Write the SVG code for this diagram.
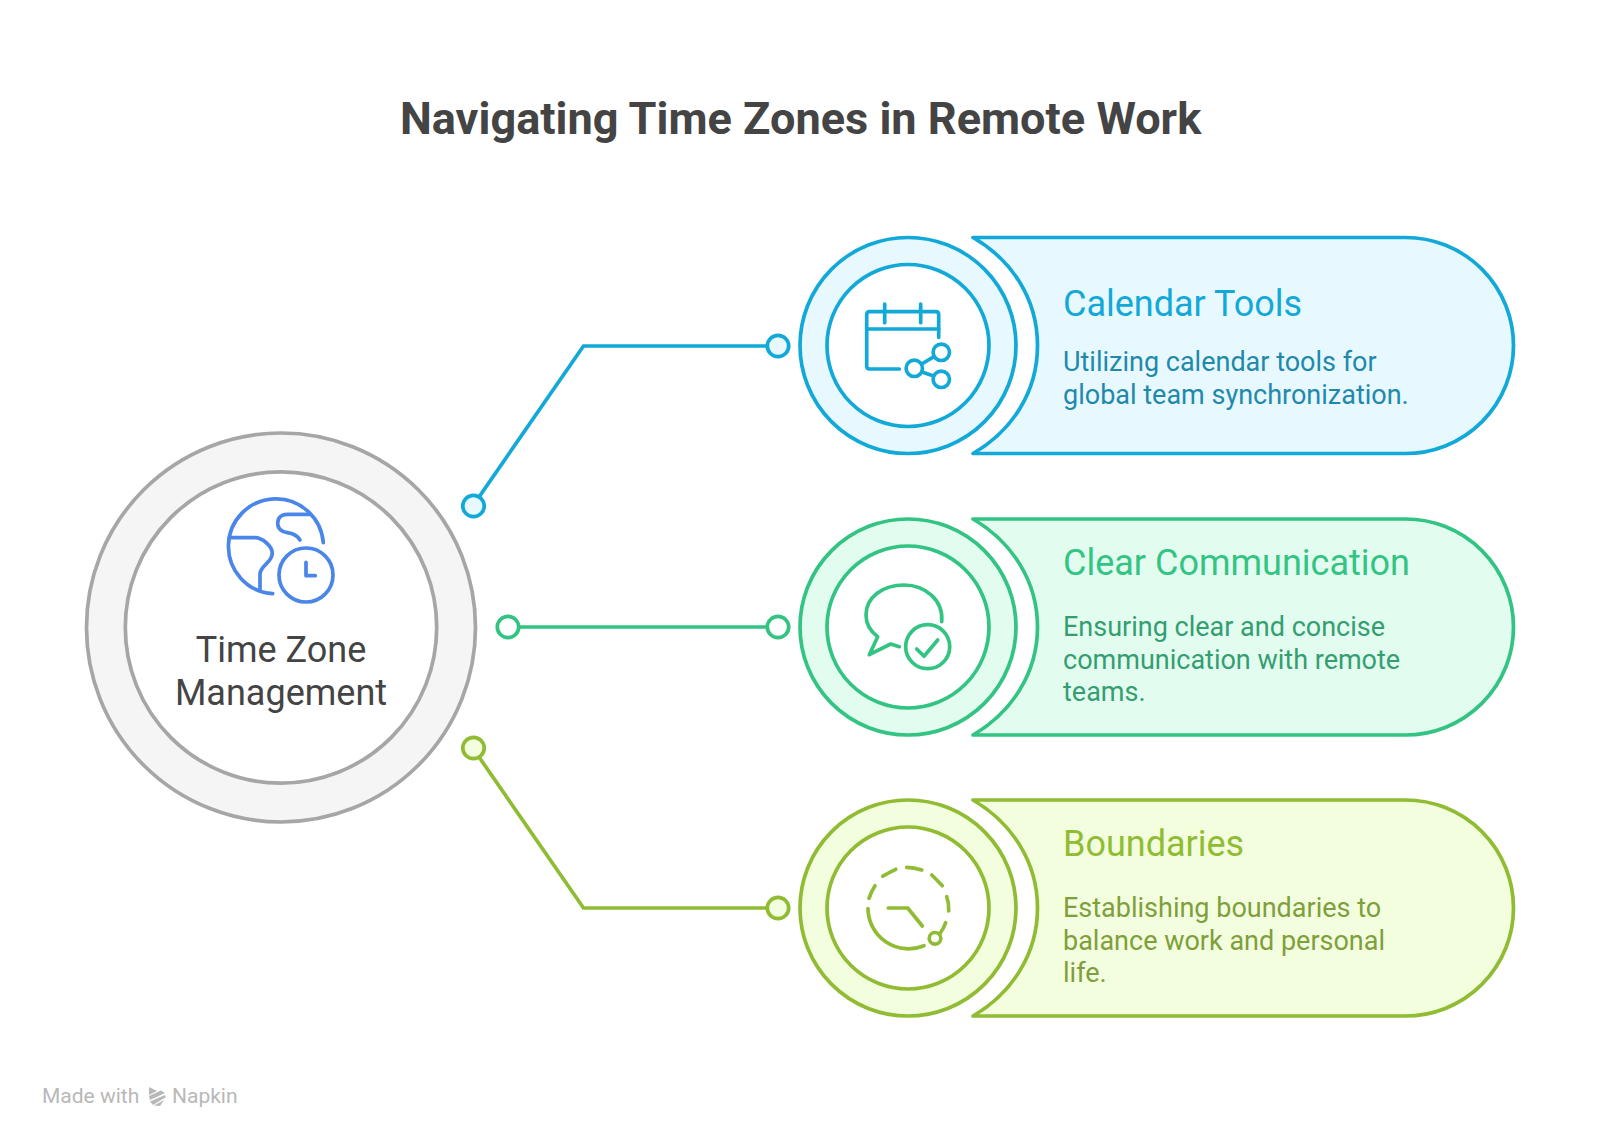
<svg xmlns="http://www.w3.org/2000/svg" width="1600" height="1147" viewBox="0 0 1600 1147">
<style>
text{font-family:Roboto,"Liberation Sans",sans-serif}
.title{font-size:45.100px;font-weight:700;fill:#444444}
.main{font-size:36px;fill:#444444;text-anchor:middle}
.head{font-size:36px}
.desc{font-size:27px}
.ic{fill:none;stroke-width:3.700;stroke-linecap:round;stroke-linejoin:round}
.ln{fill:none;stroke-width:3.700;stroke-linejoin:miter}
.blue{stroke:#12a9d8}.bfill{fill:#e7f8ff}
.green{stroke:#33c483}.gfill{fill:#e2fdf0}
.lime{stroke:#90bc33}.lfill{fill:#f2fedd}
.s{stroke-width:3.700;stroke-linejoin:round}
.foot{font-size:21px;fill:#b8b8b8}
</style>
<rect width="1600" height="1147" fill="#ffffff"/>
<text class="title" x="400" y="134">Navigating Time Zones in Remote Work</text>
<g id="connectors">
<path class="ln blue" d="M479 497 L583.500 346 H767"/>
<circle class="s blue bfill" cx="473.500" cy="506" r="10.700"/>
<circle class="s blue bfill" cx="778" cy="346" r="10.700"/>
<path class="ln green" d="M519 627 H767"/>
<circle class="s green" fill="#ffffff" cx="508" cy="627" r="10.700"/>
<circle class="s green" fill="#ffffff" cx="778" cy="627" r="10.700"/>
<path class="ln lime" d="M479 757 L583.500 908 H767"/>
<circle class="s lime lfill" cx="473.500" cy="748" r="10.700"/>
<circle class="s lime lfill" cx="778" cy="908" r="10.700"/>
</g>
<g id="node-main">
<circle cx="281" cy="627.500" r="194.500" fill="#f5f5f5" stroke="#a6a6a6" stroke-width="3.700"/>
<circle cx="281" cy="627.500" r="155.700" fill="#ffffff" stroke="#a6a6a6" stroke-width="3.700"/>
<g class="ic" stroke="#4a86e8">
<path d="M323.300 542.700 A47.500 47.500 0 1 0 272.700 593.700"/>
<path d="M229.300 537.700 H255 C262 537.700 272.300 546 272.300 553.300 C272.300 563 260 565 260 574.300 V591"/>
<path d="M309.300 514.300 H287.300 C281 514.300 277.700 518 277.700 523.300 C277.700 529 282 532 287.300 532.700 C293 533.500 297 535 300 540"/>
<circle cx="306" cy="575" r="27"/>
<path d="M306 562.300 V575.700 H315.300"/>
</g>
<text class="main" x="281" y="661.500">Time Zone</text>
<text class="main" x="281" y="704.700">Management</text>
</g>
<g id="node-calendar">
<path class="s blue bfill" d="M973 237.500 H1405.500 A108 108 0 0 1 1405.500 453.500 H973 C1012 431 1037.500 392 1037.500 345.500 C1037.500 299 1012 260 973 237.500 Z"/>
<circle class="s blue bfill" cx="908" cy="345.500" r="108"/>
<circle class="s blue" fill="#ffffff" cx="908" cy="345.500" r="81"/>
<g class="ic blue">
<path d="M938.700 337.300 V314.700 Q938.700 311.700 935.700 311.700 H869.700 Q866.700 311.700 866.700 314.700 V366 Q866.700 369 869.700 369 H899.300"/>
<path d="M866.700 329 H938.700 M884.700 304 V322.700 M920.700 304 V322.700"/>
<circle cx="914.300" cy="368.300" r="8.200"/><circle cx="941.300" cy="352.300" r="8.200"/><circle cx="941.300" cy="379.300" r="8.200"/>
<path d="M921.700 364 L934 356.700 M922 372 L933.700 376"/>
</g>
<text class="head" x="1063" y="315.700" fill="#12a9d8">Calendar Tools</text>
<text class="desc" x="1063" y="371" fill="#1f89ab">Utilizing calendar tools for</text>
<text class="desc" x="1063" y="403.500" fill="#1f89ab">global team synchronization.</text>
</g>
<g id="node-communication">
<path class="s green gfill" d="M973 519 H1405.500 A108 108 0 0 1 1405.500 735 H973 C1012 712 1037.500 673 1037.500 627 C1037.500 581 1012 542 973 519 Z"/>
<circle class="s green gfill" cx="908" cy="627" r="108"/>
<circle class="s green" fill="#ffffff" cx="908" cy="627" r="81"/>
<g class="ic green">
<path d="M941.700 621.700 C943.500 600 925 585 904 585 C883 585 866 597 866 615 C866 624 870 631 877.700 636.700 L869.300 654.700 L890.700 644 L899.300 646.700"/>
<circle cx="927.700" cy="646.700" r="22"/>
<path d="M916.700 649 L924 656.300 L937.700 640"/>
</g>
<text class="head" x="1063" y="575" fill="#33c483">Clear Communication</text>
<text class="desc" x="1063" y="636" fill="#349e70">Ensuring clear and concise</text>
<text class="desc" x="1063" y="669" fill="#349e70">communication with remote</text>
<text class="desc" x="1063" y="701" fill="#349e70">teams.</text>
</g>
<g id="node-boundaries">
<path class="s lime lfill" d="M973 800 H1405.500 A108 108 0 0 1 1405.500 1016 H973 C1012 993 1037.500 954 1037.500 908 C1037.500 862 1012 823 973 800 Z"/>
<circle class="s lime lfill" cx="908" cy="908" r="108"/>
<circle class="s lime" fill="#ffffff" cx="908" cy="908" r="81"/>
<g class="ic lime">
<path d="M868 908.500 A40.500 40.500 0 0 0 924 945.700"/>
<path d="M869 898.300 Q871.500 891 875 885.700 M882.700 876.300 Q888 873 895.700 869.300 M906.700 867.300 Q914 867.500 921.700 870 M931.700 875 Q937 880 942.300 885.700 M946.700 896.700 Q949 903 948.700 911 M945.700 922.700 Q943.500 929 940 933.300"/>
<circle cx="935" cy="938.300" r="5.800"/>
<path d="M888.300 908 H907.700 L922.300 926"/>
</g>
<text class="head" x="1063" y="856" fill="#90bc33">Boundaries</text>
<text class="desc" x="1063" y="917" fill="#7f9f3c">Establishing boundaries to</text>
<text class="desc" x="1063" y="950" fill="#7f9f3c">balance work and personal</text>
<text class="desc" x="1063" y="982" fill="#7f9f3c">life.</text>
</g>
<g id="footer">
<text class="foot" x="42" y="1103">Made with</text>
<path fill="#b8b8b8" d="M149 1087 L157 1091 L149 1095 Z M149 1096 L161 1090.500 L165 1093 L150 1100 Z M150 1101.500 L165 1095 L166 1097 L153 1105 Z M154 1105.500 L164 1100 L160 1106 Z"/>
<text class="foot" x="172" y="1103">Napkin</text>
</g>
</svg>
